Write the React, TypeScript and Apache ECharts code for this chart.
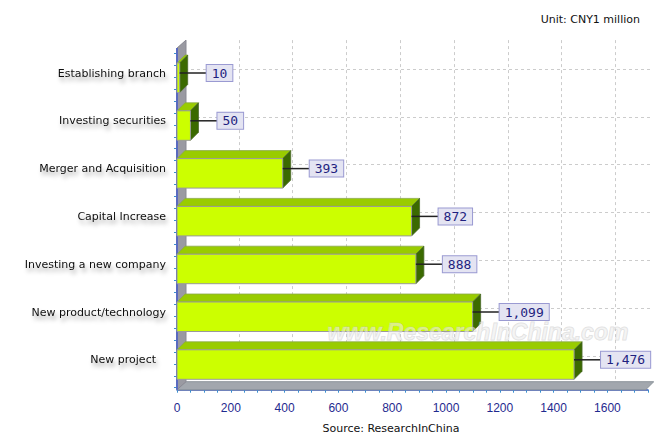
import React, { useEffect, useRef } from "react";
import * as echarts from "echarts";

const categories = [
  "Establishing branch",
  "Investing securities",
  "Merger and Acquisition",
  "Capital Increase",
  "Investing a new company",
  "New product/technology",
  "New project",
];
const values = [10, 50, 393, 872, 888, 1099, 1476];
const unitText = "Unit: CNY1 million";
const sourceText = "Source: ResearchInChina";
const watermarkText = "www.ResearchInChina.com";

// layout
const W = 654;
const H = 435;
const X0 = 177;
const PX = 0.269;
const XMAX = 1750;
const GRIDMAX = 1600;
const DX = 8;
const DY = 8;
const TOP = 49.1;
const BAND = 47.8;
const N = categories.length;
const BOTTOM = TOP + BAND * N;
const AXIS_OFFSET = 6;

export default function App() {
  const ref = useRef<HTMLDivElement>(null);
  useEffect(() => {
    document.body.style.margin = "0";
    const chart = echarts.init(ref.current!, null, { renderer: "svg" });
    const frontW = XMAX * PX;
    const labelShadow = {
      textShadowColor: "rgba(0,0,0,0.35)",
      textShadowBlur: 4,
      textShadowOffsetX: 2,
      textShadowOffsetY: 4,
    };
    const option: any = {
      animation: false,
      backgroundColor: "#ffffff",
      grid: [
        { left: X0, top: TOP, width: frontW, height: BAND * N },
        { left: X0 + DX, top: TOP - 9, width: GRIDMAX * PX, height: BOTTOM - (TOP - 9) },
        { left: X0 + DX, top: TOP + BAND / 2 - 4, width: W - (X0 + DX) - 1, height: BAND * (N - 1) },
        { left: X0, top: TOP + 4, width: 1, height: BAND * N },
      ],
      xAxis: [
        {
          gridIndex: 0,
          type: "value",
          min: 0,
          max: XMAX,
          interval: 50,
          offset: AXIS_OFFSET,
          axisLine: { show: true, lineStyle: { color: "#3a55b0", width: 1.5 } },
          axisTick: { show: true, length: 3, lineStyle: { color: "#3a8fd0" } },
          axisLabel: {
            margin: 12,
            color: "#1f2a8f",
            fontSize: 12,
            fontFamily: "Liberation Sans, Arial",
            formatter: (v: number) => (v % 200 === 0 && v <= GRIDMAX ? String(v) : ""),
          },
          splitLine: { show: false },
        },
        {
          gridIndex: 1,
          type: "value",
          min: 0,
          max: GRIDMAX,
          interval: 200,
          axisLine: { show: false },
          axisTick: { show: false },
          axisLabel: { show: false },
          splitLine: { show: true, lineStyle: { color: "#cccccc", type: [3, 3] } },
        },
        { gridIndex: 2, type: "value", show: false },
        { gridIndex: 3, type: "value", show: false },
      ],
      yAxis: [
        {
          gridIndex: 0,
          type: "category",
          data: categories,
          inverse: true,
          axisLine: { show: false },
          axisTick: { show: false },
          axisLabel: {
            margin: 11,
            color: "#111111",
            fontSize: 11,
            fontFamily: "DejaVu Sans",
            ...labelShadow,
            formatter: (v: string) => (v === "New project" ? `{pad|${v}}` : v),
            rich: {
              pad: {
                padding: [0, 10, 0, 0],
                color: "#111111",
                fontSize: 11,
                fontFamily: "DejaVu Sans",
                ...labelShadow,
              },
            },
          },
        },
        { gridIndex: 1, type: "value", show: false },
        {
          gridIndex: 2,
          type: "category",
          data: categories,
          inverse: true,
          boundaryGap: false,
          axisLine: { show: false },
          axisTick: { show: false },
          axisLabel: { show: false },
          splitLine: { show: true, lineStyle: { color: "#cccccc", type: [3, 3] } },
        },
        {
          gridIndex: 3,
          type: "value",
          min: 0,
          max: 4 * N,
          interval: 1,
          inverse: true,
          axisLine: { show: false },
          axisLabel: { show: false },
          splitLine: { show: false },
          axisTick: { show: true, length: 3, lineStyle: { color: "#3a8fd0" } },
        },
      ],
      graphic: [
        {
          type: "polygon",
          z: 1,
          shape: {
            points: [
              [X0 + DX, BOTTOM - 2],
              [X0 + frontW + DX - 2, BOTTOM - 2],
              [X0 + frontW - 2, BOTTOM + AXIS_OFFSET],
              [X0, BOTTOM + AXIS_OFFSET],
            ],
          },
          style: { fill: "#a2a7ae", stroke: "#8d949c", lineWidth: 1 },
        },
        {
          type: "polygon",
          z: 1,
          shape: {
            points: [
              [X0, TOP - 1],
              [X0 + DX + 1, TOP - 1 - DY],
              [X0 + DX + 1, BOTTOM - 2],
              [X0, BOTTOM + AXIS_OFFSET],
            ],
          },
          style: { fill: "#9a9aa2", stroke: "#8a8a94", lineWidth: 1 },
        },
        {
          type: "line",
          z: 1,
          shape: { x1: X0, y1: TOP - 1, x2: X0, y2: BOTTOM + AXIS_OFFSET },
          style: { stroke: "#5a6ac0", lineWidth: 2 },
        },
        {
          type: "text",
          z: 5,
          x: 640,
          y: 19,
          style: {
            text: unitText,
            fill: "#111111",
            font: "11px 'DejaVu Sans'",
            align: "right",
            verticalAlign: "middle",
          },
        },
        {
          type: "text",
          z: 5,
          x: 391,
          y: 428,
          style: {
            text: sourceText,
            fill: "#111111",
            font: "11px 'DejaVu Sans'",
            align: "center",
            verticalAlign: "middle",
          },
        },
        {
          type: "text",
          z: 10,
          x: 478,
          y: 332,
          style: {
            text: watermarkText,
            fill: "rgba(236,236,236,0.55)",
            stroke: "rgba(185,185,185,0.45)",
            lineWidth: 1,
            font: "italic bold 23px 'Liberation Sans', Arial",
            align: "center",
            verticalAlign: "middle",
          },
        },
      ],
      series: [
        {
          type: "custom",
          xAxisIndex: 0,
          yAxisIndex: 0,
          z: 3,
          clip: false,
          data: values.map((v, i) => [v, i]),
          encode: { x: 0, y: 1 },
          renderItem: (params: any, api: any) => {
            const v = api.value(0);
            const i = api.value(1);
            const p0 = api.coord([0, i]);
            const p1 = api.coord([v, i]);
            const x0 = p0[0];
            const x1 = p1[0];
            const c = p0[1];
            const fy0 = c - 10;
            const fy1 = c + 19.5;
            const label = v.toLocaleString("en-US");
            return {
              type: "group",
              children: [
                {
                  type: "polygon",
                  shape: {
                    points: [
                      [x0, fy0],
                      [x1, fy0],
                      [x1 + DX, fy0 - DY],
                      [x0 + DX, fy0 - DY],
                    ],
                  },
                  style: { fill: "#99cc00", stroke: "#8aa84a", lineWidth: 0.8 },
                },
                {
                  type: "polygon",
                  shape: {
                    points: [
                      [x1, fy0],
                      [x1 + DX, fy0 - DY],
                      [x1 + DX, fy1 - DY],
                      [x1, fy1],
                    ],
                  },
                  style: { fill: "#3b6a00", stroke: "#4a6a2a", lineWidth: 0.8 },
                },
                {
                  type: "rect",
                  shape: { x: x0, y: fy0, width: x1 - x0, height: fy1 - fy0 },
                  style: { fill: "#ccff00", stroke: "#9a9a9a", lineWidth: 1 },
                },
                {
                  type: "line",
                  shape: { x1: x1, y1: c, x2: x1 + 27, y2: c },
                  style: { stroke: "#222222", lineWidth: 1.5 },
                },
                {
                  type: "text",
                  style: {
                    text: label,
                    x: x1 + 27,
                    y: c,
                    fill: "#1f1f80",
                    font: "13px 'DejaVu Sans Mono'",
                    align: "left",
                    verticalAlign: "middle",
                    backgroundColor: "#e4e4f2",
                    borderColor: "#9a9ad2",
                    borderWidth: 1,
                    padding: [2, 5, 1, 5],
                  },
                },
              ],
            };
          },
        },
      ],
    };
    chart.setOption(option);
    return () => chart.dispose();
  }, []);
  return <div ref={ref} style={{ width: W, height: H }} />;
}
